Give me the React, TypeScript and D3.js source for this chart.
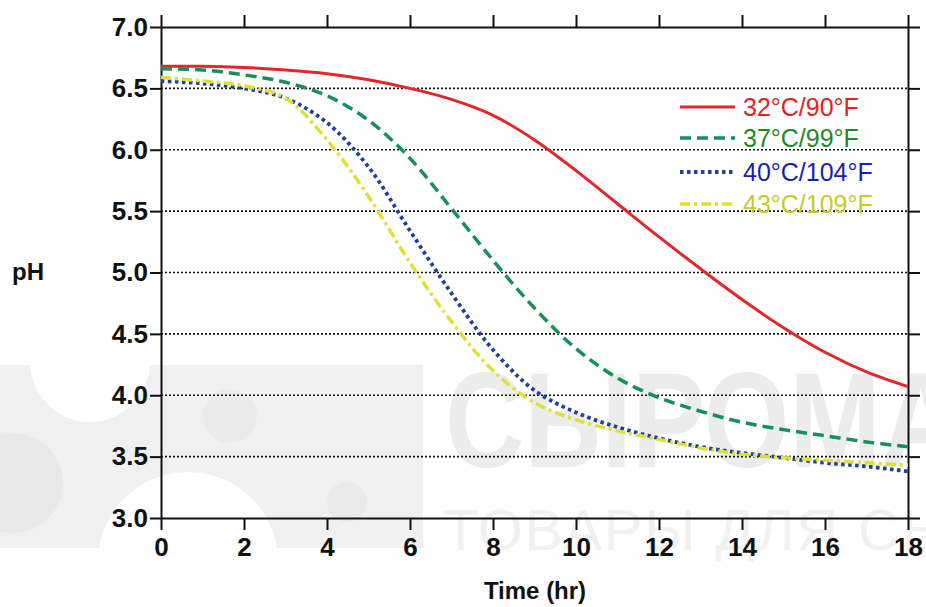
import { useEffect, useRef } from 'react';
import * as d3 from 'd3';

// hours
const hours = [0, 1, 2, 3, 4, 5, 6, 7, 8, 9, 10, 11, 12, 13, 14, 15, 16, 17, 18];

// pH readings per temperature, one per hour
const ph32 = [6.68, 6.68, 6.67, 6.65, 6.62, 6.57, 6.50, 6.41, 6.28, 6.08, 5.83, 5.56, 5.29, 5.03, 4.78, 4.55, 4.35, 4.19, 4.07];
const ph37 = [6.66, 6.65, 6.61, 6.55, 6.44, 6.24, 5.93, 5.52, 5.10, 4.71, 4.38, 4.14, 3.98, 3.87, 3.78, 3.72, 3.67, 3.62, 3.58];
const ph40 = [6.56, 6.54, 6.50, 6.42, 6.22, 5.86, 5.34, 4.83, 4.37, 4.04, 3.86, 3.74, 3.65, 3.58, 3.53, 3.49, 3.45, 3.42, 3.38];
const ph43 = [6.59, 6.56, 6.52, 6.42, 6.08, 5.62, 5.08, 4.60, 4.20, 3.94, 3.80, 3.71, 3.64, 3.57, 3.52, 3.49, 3.47, 3.45, 3.43];

const seriesNames = ['32°C/90°F', '37°C/99°F', '40°C/104°F', '43°C/109°F'];

const xTicks = [0, 2, 4, 6, 8, 10, 12, 14, 16, 18];
const yTicks = [3.0, 3.5, 4.0, 4.5, 5.0, 5.5, 6.0, 6.5, 7.0];
const gridTicks = [3.5, 4.0, 4.5, 5.0, 5.5, 6.0, 6.5];

const width = 926;
const height = 607;

const FONT = '"Liberation Sans", Arial, sans-serif';

const styles = [
  { line: '#e3262b', text: '#e42222', dash: null, w: 3 },
  { line: '#16905a', text: '#238a23', dash: '11,6', w: 3.5 },
  { line: '#1f3f99', text: '#1c1cb0', dash: '3.5,3.5', w: 3.8 },
  { line: '#e0e034', text: '#c8c82a', dash: '10,4,3,4', w: 3.5 },
];

const App = () => {
  const svgRef = useRef<SVGSVGElement>(null);

  useEffect(() => {
    if (!svgRef.current) return;
    const svg = d3.select(svgRef.current);
    svg.selectAll('*').remove();

    svg.append('rect').attr('width', width).attr('height', height).attr('fill', 'white');

    // watermark (faint logo behind the chart)
    const wm = svg.append('g');
    wm.append('rect').attr('x', 0).attr('y', 365).attr('width', 423).attr('height', 183).attr('fill', '#f0f0f0');
    wm.append('circle').attr('cx', 90).attr('cy', 362).attr('r', 60).attr('fill', 'white');
    wm.append('circle').attr('cx', 188).attr('cy', 562).attr('r', 90).attr('fill', 'white');
    wm.append('circle').attr('cx', 13).attr('cy', 483).attr('r', 50).attr('fill', '#e9e9e9');
    wm.append('circle').attr('cx', 230).attr('cy', 416).attr('r', 27).attr('fill', '#eaeaea');
    wm.append('circle').attr('cx', 347).attr('cy', 502).attr('r', 20).attr('fill', '#eaeaea');
    wm.append('text')
      .attr('x', 445).attr('y', 467)
      .attr('textLength', 515).attr('lengthAdjust', 'spacingAndGlyphs')
      .style('font-family', FONT).style('font-size', '136px').style('font-weight', 'bold')
      .attr('fill', '#ececec')
      .text('СЫРОМА');
    wm.append('text')
      .attr('x', 443).attr('y', 550)
      .attr('textLength', 510).attr('lengthAdjust', 'spacing')
      .style('font-family', FONT).style('font-size', '58px')
      .attr('fill', '#f1f1f1')
      .text('ТОВАРЫ ДЛЯ СЫ');

    const x = d3.scaleLinear().domain([0, 18]).range([161, 908]);
    const y = d3.scaleLinear().domain([3, 7]).range([518, 27]);

    // grid
    svg.append('g').selectAll('line')
      .data(gridTicks)
      .enter().append('line')
      .attr('x1', x(0)).attr('x2', x(18))
      .attr('y1', (d) => y(d)).attr('y2', (d) => y(d))
      .attr('stroke', '#111').attr('stroke-width', 1.7).attr('stroke-dasharray', '2,2');

    const styleAxis = (g: any) => {
      g.selectAll('.domain').attr('stroke', '#111').attr('stroke-width', 2);
      g.selectAll('.tick line').attr('stroke', '#111').attr('stroke-width', 2);
      g.selectAll('.tick text')
        .style('font-family', FONT).style('font-size', '26px').style('font-weight', 'bold')
        .attr('fill', '#111');
    };

    svg.append('g').attr('transform', `translate(0,${y(7)})`)
      .call(d3.axisTop(x).tickValues(xTicks).tickSize(12).tickSizeOuter(0).tickFormat(() => ''))
      .call(styleAxis);
    svg.append('g').attr('transform', `translate(${x(18)},0)`)
      .call(d3.axisRight(y).tickValues(yTicks).tickSize(12).tickSizeOuter(0).tickFormat(() => ''))
      .call(styleAxis);
    svg.append('g').attr('transform', `translate(0,${y(3)})`)
      .call(d3.axisBottom(x).tickValues(xTicks).tickSize(12).tickSizeOuter(0).tickPadding(8).tickFormat(d3.format('d')))
      .call(styleAxis);
    svg.append('g').attr('transform', `translate(${x(0)},0)`)
      .call(d3.axisLeft(y).tickValues(yTicks).tickSize(11).tickSizeOuter(0).tickPadding(2).tickFormat(d3.format('.1f')))
      .call(styleAxis);

    // curves
    const allSeries = [ph32, ph37, ph40, ph43];
    const line = d3.line<number>()
      .x((_, i) => x(hours[i]))
      .y((d) => y(d))
      .curve(d3.curveCatmullRom.alpha(0.5));

    allSeries.forEach((vals, i) => {
      const s = styles[i];
      svg.append('path')
        .datum(vals)
        .attr('d', line)
        .attr('fill', 'none')
        .attr('stroke', s.line)
        .attr('stroke-width', s.w)
        .attr('stroke-dasharray', s.dash);
    });

    // legend
    const legendY = [107, 138, 172, 204];
    seriesNames.forEach((name, i) => {
      const s = styles[i];
      svg.append('line')
        .attr('x1', 680).attr('x2', 735)
        .attr('y1', legendY[i]).attr('y2', legendY[i])
        .attr('stroke', s.line).attr('stroke-width', s.w)
        .attr('stroke-dasharray', s.dash);
      svg.append('text')
        .attr('x', 743).attr('y', legendY[i] + 9)
        .style('font-family', FONT).style('font-size', '25px')
        .attr('fill', s.text)
        .text(name);
    });

    // axis titles
    svg.append('text')
      .attr('x', 535).attr('y', 599)
      .attr('text-anchor', 'middle')
      .style('font-family', FONT).style('font-size', '24px').style('font-weight', 'bold')
      .attr('fill', '#111')
      .text('Time (hr)');
    svg.append('text')
      .attr('x', 12).attr('y', 280)
      .style('font-family', FONT).style('font-size', '24px').style('font-weight', 'bold')
      .attr('fill', '#111')
      .text('pH');
  }, []);

  return (
    <div style={{ position: 'absolute', left: 0, top: 0 }}>
      <svg ref={svgRef} width={width} height={height} style={{ display: 'block' }}></svg>
    </div>
  );
};

export default App;
